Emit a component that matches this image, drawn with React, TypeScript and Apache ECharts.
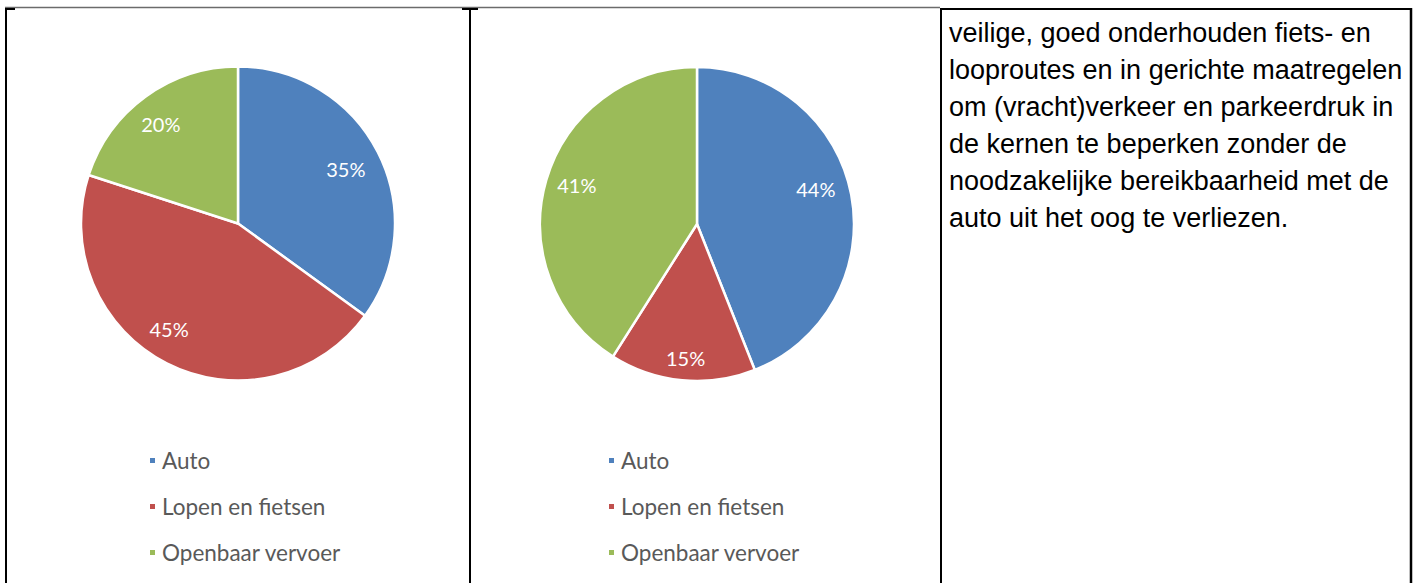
import React, { useEffect, useRef } from "react";
import * as echarts from "echarts";

const categories = ["Auto", "Lopen en fietsen", "Openbaar vervoer"];
const pieLeftValues = [35, 45, 20];
const pieRightValues = [44, 15, 41];
const colors = ["#4F81BD", "#C0504D", "#9BBB59"];
const textLines = [
  "veilige, goed onderhouden fiets- en",
  "looproutes en in gerichte maatregelen",
  "om (vracht)verkeer en parkeerdruk in",
  "de kernen te beperken zonder de",
  "noodzakelijke bereikbaarheid met de",
  "auto uit het oog te verliezen.",
];
// label nudges (style only)
const nudgeLeft = [[0, 0], [-14, -2], [-6, -2]];
const nudgeRight = [[0, -12], [0, 14], [-4, -5]];

const FONT = "Lato, 'Open Sans', sans-serif";

function pieSeries(values: number[], cx: number, cy: number, nudges: number[][]) {
  const base = {
    type: "pie",
    center: [cx, cy],
    startAngle: 90,
    clockwise: true,
    animation: false,
  };
  return [
    {
      ...base,
      radius: [0, 157],
      label: { show: false },
      labelLine: { show: false },
      itemStyle: { borderColor: "#ffffff", borderWidth: 2.5 },
      data: values.map((v, i) => ({ name: categories[i], value: v, itemStyle: { color: colors[i] } })),
    },
    {
      ...base,
      radius: [79, 157],
      silent: true,
      legendHoverLink: false,
      itemStyle: { color: "transparent", borderWidth: 0 },
      emphasis: { disabled: true },
      labelLine: { show: false },
      data: values.map((v, i) => ({
        name: categories[i],
        value: v,
        label: {
          show: true,
          position: "inside",
          formatter: "{c}%",
          color: "#ffffff",
          fontFamily: FONT,
          fontSize: 20,
          offset: nudges[i],
        },
      })),
    },
  ];
}

function legend(left: number) {
  return {
    orient: "vertical",
    left,
    top: 444,
    icon: "rect",
    itemWidth: 7,
    itemHeight: 7,
    itemGap: 23,
    selectedMode: false,
    data: categories,
    textStyle: { color: "#595959", fontFamily: FONT, fontSize: 22.5, padding: [0, 0, 0, 1] },
  };
}

export default function App() {
  const ref = useRef<HTMLDivElement>(null);
  useEffect(() => {
    document.body.style.margin = "0";
    const chart = echarts.init(ref.current!, null, { renderer: "svg" });
    const line = (x1: number, y1: number, x2: number, y2: number, color = "#000", w = 2) => ({
      type: "line",
      shape: { x1, y1, x2, y2 },
      style: { stroke: color, lineWidth: w },
      silent: true,
    });
    chart.setOption({
      animation: false,
      backgroundColor: "#ffffff",
      legend: [legend(143), legend(602)],
      series: [
        ...pieSeries(pieLeftValues, 238, 223.5, nudgeLeft),
        ...pieSeries(pieRightValues, 697, 224, nudgeRight),
      ],
      graphic: [
        line(5, 7.5, 940, 7.5, "#6b6b6b", 1.5),
        line(940, 9, 1412, 9, "#000", 2),
        line(5, 9, 15, 9, "#000", 2),
        line(462, 9, 478, 9, "#000", 2),
        line(6, 8, 6, 583),
        line(470, 8, 470, 583),
        line(941, 8, 941, 583),
        line(1411, 8, 1411, 583, "#000", 2.5),
        {
          type: "text",
          left: 949,
          top: 14,
          silent: true,
          style: {
            text: textLines.join("\n"),
            fill: "#000000",
            font: "27px 'Liberation Sans', Arial, sans-serif",
            lineHeight: 37,
          },
        },
      ],
    });
    return () => chart.dispose();
  }, []);
  return <div ref={ref} style={{ width: 1417, height: 583 }} />;
}
